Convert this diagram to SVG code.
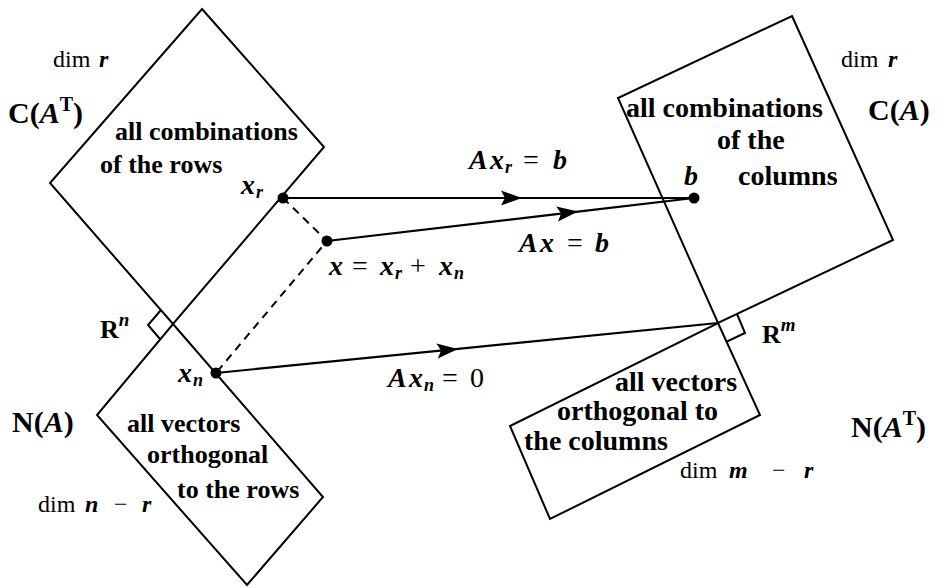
<svg xmlns="http://www.w3.org/2000/svg" width="940" height="588" viewBox="0 0 940 588">
<style>
.box{fill:none;stroke:#000;stroke-width:2;stroke-linejoin:miter}
.ra{fill:none;stroke:#000;stroke-width:2}
.con{fill:none;stroke:#000;stroke-width:2.2}
.dash{fill:none;stroke:#000;stroke-width:2;stroke-dasharray:8 6}
.dot{fill:#000}
text{font-family:"Liberation Serif","Times New Roman",serif;fill:#000}
.desc{font-weight:bold;font-size:26px}
.descR{font-weight:bold;font-size:28px}
.lab{font-weight:bold;font-size:30px}
.dim{font-size:24px}
.mi{font-style:italic;font-weight:bold}
.rm{font-style:normal;font-weight:normal}
.math{font-size:28px}
.sub{font-size:18px}
</style>
<defs>
<marker id="ah" markerUnits="userSpaceOnUse" markerWidth="24" markerHeight="18" viewBox="-22 -9 24 18" refX="0" refY="0" orient="auto">
<path d="M0,0 L-21,-7.5 L-17,0 L-21,7.5 Z" fill="#000"/>
</marker>
</defs>

<g id="rowspace">
<polygon class="box" points="202,9 324,147 173,324 50,183"/>
<text class="desc" x="115" y="140">all combinations</text>
<text class="desc" x="100" y="173">of the rows</text>
<text class="lab" x="8" y="123"><tspan>C(</tspan><tspan class="mi">A</tspan><tspan font-size="20" dy="-12">T</tspan><tspan dy="12">)</tspan></text>
<text class="dim" x="53" y="67">dim</text>
<text class="dim" x="99" y="67"><tspan class="mi">r</tspan></text>
</g>

<g id="nullspace">
<polygon class="box" points="173,324 323,497 247,585 97,415"/>
<text class="desc" x="127" y="432">all vectors</text>
<text class="desc" x="147" y="463">orthogonal</text>
<text class="desc" x="177" y="498">to the rows</text>
<text class="lab" x="12" y="432"><tspan>N(</tspan><tspan class="mi">A</tspan><tspan>)</tspan></text>
<text class="dim" x="38" y="512">dim <tspan class="mi" x="85">n</tspan><tspan x="114">−</tspan><tspan class="mi" x="142">r</tspan></text>
</g>

<g id="Rn">
<polyline class="ra" points="161,310 148,325 160,339"/>
<text font-weight="bold" font-size="26" x="100" y="338">R<tspan class="mi" font-size="19" dy="-12">n</tspan></text>
</g>

<g id="colspace">
<polygon class="box" points="792,16 893,240 718,323 618,98"/>
<text class="descR" x="626" y="117">all combinations</text>
<text class="descR" x="717" y="149">of the</text>
<text class="descR" x="738" y="185">columns</text>
<text class="lab" x="868" y="120"><tspan>C(</tspan><tspan class="mi">A</tspan><tspan>)</tspan></text>
<text class="dim" x="841" y="67">dim</text>
<text class="dim" x="888" y="67"><tspan class="mi">r</tspan></text>
</g>

<g id="leftnullspace">
<polygon class="box" points="718,323 760,415 550,519 510,426"/>
<text class="descR" x="615" y="391">all vectors</text>
<text class="descR" x="557" y="420">orthogonal to</text>
<text class="descR" x="524" y="450">the columns</text>
<text class="lab" x="851" y="437"><tspan>N(</tspan><tspan class="mi">A</tspan><tspan font-size="20" dy="-12">T</tspan><tspan dy="12">)</tspan></text>
<text class="dim" x="680" y="478">dim <tspan class="mi" x="729">m</tspan><tspan x="772">−</tspan><tspan class="mi" x="804">r</tspan></text>
</g>

<g id="Rm">
<polyline class="ra" points="737,314 745,333 726,342"/>
<text font-weight="bold" font-size="26" x="762" y="343">R<tspan class="mi" font-size="19" dy="-12">m</tspan></text>
</g>

<g id="connectors">
<path class="dash" d="M283,198 L327,241 L216,373"/>
<path class="con" d="M283,198 L522,198 L694,198" marker-mid="url(#ah)"/>
<path class="con" d="M327,241 L578,211.6 L694,198" marker-mid="url(#ah)"/>
<path class="con" d="M216,373 L458,348.9 L718,323" marker-mid="url(#ah)"/>
</g>

<g id="points">
<circle class="dot" cx="283" cy="198" r="5.5"/>
<circle class="dot" cx="327" cy="241" r="5.5"/>
<circle class="dot" cx="216" cy="373" r="5.5"/>
<circle class="dot" cx="694" cy="198" r="5.5"/>
</g>

<g id="labels">
<text class="math" y="194"><tspan class="mi" x="241">x</tspan><tspan class="mi sub" x="256" dy="4">r</tspan></text>
<text class="math" y="382"><tspan class="mi" x="178">x</tspan><tspan class="mi sub" x="193" dy="4">n</tspan></text>
<text class="math" y="185"><tspan class="mi" x="684">b</tspan></text>
<text class="math" y="169"><tspan class="mi" x="469">A</tspan><tspan class="mi" x="490">x</tspan><tspan class="mi sub" x="505" dy="4">r</tspan><tspan class="rm" x="523" dy="-4">=</tspan><tspan class="mi" x="553">b</tspan></text>
<text class="math" y="252"><tspan class="mi" x="519">A</tspan><tspan class="mi" x="540">x</tspan><tspan class="rm" x="567">=</tspan><tspan class="mi" x="595">b</tspan></text>
<text class="math" y="275"><tspan class="mi" x="329">x</tspan><tspan class="rm" x="352">=</tspan><tspan class="mi" x="380">x</tspan><tspan class="mi sub" x="395" dy="4">r</tspan><tspan class="rm" x="410" dy="-4">+</tspan><tspan class="mi" x="439">x</tspan><tspan class="mi sub" x="454" dy="4">n</tspan></text>
<text class="math" y="387"><tspan class="mi" x="388">A</tspan><tspan class="mi" x="409">x</tspan><tspan class="mi sub" x="424" dy="4">n</tspan><tspan class="rm" x="442" dy="-4">=</tspan><tspan class="rm" x="470">0</tspan></text>
</g>
</svg>
